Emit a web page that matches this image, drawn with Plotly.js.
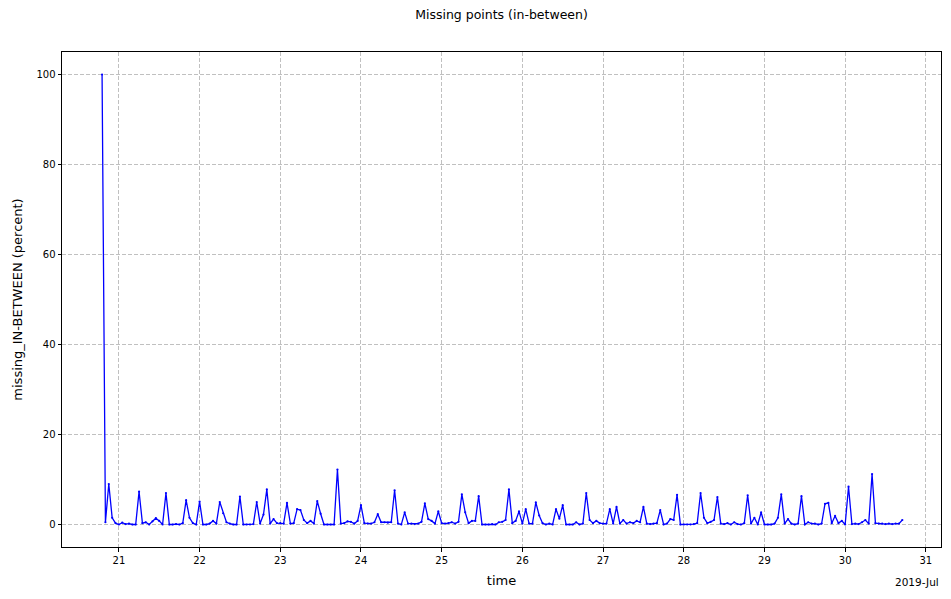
<!DOCTYPE html>
<html>
<head>
<meta charset="utf-8">
<script src="https://cdn.plot.ly/plotly-3.0.1.min.js"></script>
<style>html,body{margin:0;padding:0;background:#fff;}#chart{width:951px;height:599px;}</style>
</head>
<body>
<div id="chart"></div>
<script>
// Hourly series start time and step
const startTime = "2019-07-20T19:00:00";
const stepHours = 1;
// missing_IN-BETWEEN (percent), hourly values
const missingPercent = [
100,0.5,9,1.5,0.3,0,0.4,0.1,0.2,0,
0,7.3,0.3,0.5,0,0.7,1.4,0.8,0,7.0,
0,0,0.1,0,0.3,5.4,1.5,0.3,0,5.1,
0,0,0.2,0.8,0.2,5.0,2.5,0.5,0.2,0,
0,6.2,0,0,0,0.1,5.0,0.2,2.2,7.8,
0.2,1.2,0.3,0.3,0.2,4.8,0.2,0.3,3.4,3.2,
1.0,0.3,0.8,0.2,5.2,2.4,0,0,0,0,
12.2,0.2,0.3,0.7,0.6,0.2,0.8,4.3,0.3,0.2,
0.2,0.5,2.3,0.5,0.5,0.4,0.5,7.6,0.2,0,
2.7,0.2,0.2,0.1,0.2,0.6,4.7,1.2,0.8,0.2,
2.9,0.3,0.2,0.3,0.5,0.2,0.6,6.7,2.7,0.3,
0.8,0.8,6.3,0,0,0,0.1,0,0.5,0.6,
1.0,7.8,0.3,0.8,2.9,0.2,3.4,0.2,0.2,4.9,
2.0,0.3,0,0.2,0,3.4,1.3,4.3,0,0,
0,0.5,0,0.2,7.0,1.0,0.3,0.8,0.3,0.2,
0.2,3.4,0.2,3.9,0.2,1.0,0.2,0.5,0.3,0.8,
0.5,3.9,0.2,0.1,0.2,0.3,3.2,0,0.2,1.2,
1.0,6.6,0,0,0,0,0.1,0.3,7.0,1.5,
0.3,0.6,1.0,6.1,0.2,0.1,0.3,0,0.5,0.1,
0,0.3,6.5,0.2,1.5,0,2.7,0,0,0,
0.2,1.5,6.7,0.2,1.2,0.2,0,0.2,6.3,0,
0.5,0.2,0.2,0,0.2,4.6,4.8,0.3,1.9,0.3,
0.8,0,8.4,0.1,0.2,0.1,0.5,1.0,0.2,11.2,
0.3,0.2,0.2,0.1,0.2,0.1,0.2,0.2,1.0
];
const xTickVals = ["2019-07-21","2019-07-22","2019-07-23","2019-07-24","2019-07-25","2019-07-26","2019-07-27","2019-07-28","2019-07-29","2019-07-30","2019-07-31"];
const xTickText = ["21","22","23","24","25","26","27","28","29","30","31"];
const yTickVals = [0,20,40,60,80,100];

function pad(n){return (n<10?"0":"")+n;}
const t0 = new Date(startTime+"Z").getTime();
const times = missingPercent.map((v,i)=>{
  const d = new Date(t0 + i*stepHours*3600000);
  return d.getUTCFullYear()+"-"+pad(d.getUTCMonth()+1)+"-"+pad(d.getUTCDate())+" "+pad(d.getUTCHours())+":00:00";
});

const font = "DejaVu Sans, sans-serif";
const trace = {
  x: times, y: missingPercent, type: "scatter", mode: "lines+markers",
  line: {color: "#0000ff", width: 1.3},
  marker: {color: "#0000ff", size: 2.2},
  hoverinfo: "x+y"
};
const layout = {
  width: 951, height: 599,
  margin: {l: 62, r: 10, t: 52, b: 52},
  paper_bgcolor: "#fff", plot_bgcolor: "#fff",
  font: {family: font, size: 10, color: "#000"},
  title: {text: "Missing points (in-between)", font: {family: font, size: 12.5, color: "#000"}, x: 0.5, xref: "paper", y: 0.975, yanchor: "middle"},
  showlegend: false,
  xaxis: {
    type: "date",
    range: ["2019-07-20 07:05:00", "2019-07-31 04:30:00"],
    tickmode: "array", tickvals: xTickVals, ticktext: xTickText,
    ticks: "outside", ticklen: 3.5, tickwidth: 1, tickcolor: "#000",
    showline: true, linecolor: "#000", linewidth: 1, mirror: true,
    showgrid: true, gridcolor: "#b0b0b0", griddash: "4px,2px", gridwidth: 0.8,
    zeroline: false,
    tickfont: {family: font, size: 10, color: "#000"},
    title: {text: "time", font: {family: font, size: 13, color: "#000"}, standoff: 11}
  },
  yaxis: {
    range: [-5, 105],
    tickmode: "array", tickvals: yTickVals,
    ticks: "outside", ticklen: 3.5, tickwidth: 1, tickcolor: "#000",
    showline: true, linecolor: "#000", linewidth: 1, mirror: true,
    showgrid: true, gridcolor: "#b0b0b0", griddash: "4px,2px", gridwidth: 0.8,
    zeroline: false,
    tickfont: {family: font, size: 10, color: "#000"},
    title: {text: "missing_IN-BETWEEN (percent)", font: {family: font, size: 13, color: "#000"}, standoff: 10}
  },
  annotations: [{
    text: "2019-Jul", xref: "paper", yref: "paper", x: 1, y: -0.07,
    xanchor: "right", yanchor: "middle", showarrow: false,
    font: {family: font, size: 10.5, color: "#000"}
  }]
};
Plotly.newPlot("chart", [trace], layout, {displayModeBar: false, staticPlot: true});
</script>
</body>
</html>
